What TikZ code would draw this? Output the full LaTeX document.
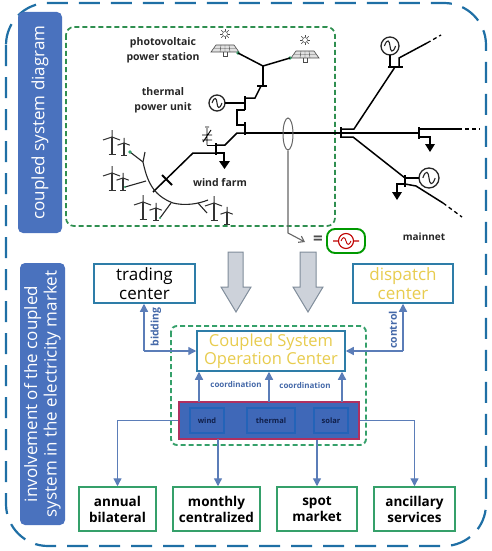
\documentclass[tikz,border=0pt]{standalone}
\usepackage{fontspec}
\setmainfont{Open Sans}
\usetikzlibrary{arrows.meta,calc,shapes.geometric}
\definecolor{outerblue}{HTML}{1F6FA5}
\definecolor{sidebar}{HTML}{4A72BE}
\definecolor{dashgreen}{HTML}{2F8F50}
\definecolor{boxblue}{HTML}{2E7DA8}
\definecolor{boxgreen}{HTML}{35A06A}
\definecolor{arrowblue}{HTML}{5B7DB8}
\definecolor{goldtext}{HTML}{E8CC4E}
\definecolor{navy}{HTML}{101F4A}
\definecolor{panelblue}{HTML}{3F68B8}
\definecolor{innerblue}{HTML}{2363B8}
\definecolor{panelred}{HTML}{B03060}
\definecolor{labelblue}{HTML}{4468A8}
\definecolor{biggray}{HTML}{CDD2DA}
\definecolor{grayedge}{HTML}{7F8C9A}
\tikzset{
  sidebox/.style={draw=none,fill=sidebar,rounded corners=5pt,text=white,align=center,inner sep=0pt},
  topbox/.style={draw=boxblue,line width=1.5pt,fill=white,align=center,inner sep=0pt,font=\fontsize{17}{19}\selectfont},
  mktbox/.style={draw=boxgreen,line width=1.5pt,fill=white,align=center,inner sep=0pt,font=\fontsize{13.5}{16}\selectfont\bfseries},
  unitbox/.style={draw=innerblue,line width=1.2pt,fill=panelblue,text=navy,inner sep=0pt,font=\fontsize{7.5}{9}\selectfont\bfseries},
  flow/.style={draw=arrowblue,line width=1.3pt,-{Triangle[length=8pt,width=8pt]}},
  plainlabel/.style={align=center,font=\fontsize{10.5}{15}\selectfont\bfseries,text=black!85},
  smalllabel/.style={text=labelblue,font=\fontsize{8}{10}\selectfont\bfseries,inner sep=0pt},
  sidelabel/.style={text=labelblue,font=\fontsize{10.5}{12}\selectfont\bfseries,inner sep=0pt,rotate=90},
  pw/.style={line width=1.5pt,black},
  thin pw/.style={line width=1.1pt,black!85},
  bigarrow/.style={draw=grayedge,line width=1pt,fill=biggray},
  turbine/.pic={
    \draw[line width=1.4pt,black!80] (0,0) -- (0,17);
    \draw[line width=1.1pt,black!80] (-3.5,17.5) -- (3.5,17.5);
    \draw[line width=1pt,black!80] (0,0) -- (-9,3) (0,0) -- (8,3) (0,0) -- (0,-7);
  },
  solarpanel/.pic={
    \draw[line width=.6pt,black!70,fill=black!12] (-9,-1) -- (9,-1) -- (14,6) -- (-14,6) -- cycle;
    \draw[line width=.4pt,black!70] (-4,-1) -- (-5,6) (4,-1) -- (5,6) (0,-1) -- (0,6) (-11,2.5) -- (11,2.5);
    \draw[line width=.7pt,black!70] (-2,6) -- (-2,10) -- (2,10) -- (2,6);
    \foreach \a in {0,45,...,315}{\draw[line width=.5pt,black!70] (0,-12)++(\a:3) -- ++(\a:2.4);}
    \draw[line width=.5pt,black!70] (0,-12) circle (2.5);
  },
  generator/.pic={
    \draw[line width=1.3pt,black!85] (0,0) circle (#1);
    \draw[line width=1.1pt,black!85] (-#1*.62,0) .. controls (-#1*.3,-#1*.9) and (-#1*.05,-#1*.6) .. (0,0) .. controls (#1*.05,#1*.6) and (#1*.3,#1*.9) .. (#1*.62,0);
  }
}
\begin{document}
\begin{tikzpicture}[x=1pt,y=-1pt]
\useasboundingbox (0,0) rectangle (492,551);
% outer frame
\draw[outerblue,line width=2.2pt,rounded corners=42pt,dash pattern=on 21pt off 11pt] (6,3) rectangle (486,546);
% side labels
\node[sidebox,rotate=90,minimum width=221pt,minimum height=44pt,font=\fontsize{17}{19}\selectfont] (sideA) at (40,122.5) {coupled system diagram};
\node[sidebox,rotate=90,minimum width=262pt,minimum height=45pt,font=\fontsize{17}{19.5}\selectfont] (sideB) at (42.5,394) {involvement of the coupled\\system in the electricity market};
% upper green area
\draw[dashgreen,line width=1.7pt,rounded corners=8pt,dash pattern=on 5pt off 3pt] (66,27) rectangle (335,226);
\node[plainlabel] (pvlabel) at (163,50) {photovoltaic\\power station};
\node[plainlabel] (thlabel) at (163,100) {thermal\\power unit};
\node[plainlabel,font=\fontsize{10.5}{13}\selectfont\bfseries] (wflabel) at (220,183) {wind farm};
\node[font=\fontsize{10}{12}\selectfont\bfseries,text=black!85] (mainnet) at (424,237) {mainnet};
% solar panels
\pic at (225,46) {solarpanel};
\pic at (305,52) {solarpanel};
\coordinate (pvA) at (238,53);
\coordinate (pvB) at (290,58);
\coordinate (pvJ) at (263,66);
\coordinate (pvBus) at (263,86);
\fill[boxgreen] (pvA) circle (1.8) (pvB) circle (1.8);
\draw[pw] (pvA) -- (pvJ) -- (pvB);
\draw[pw] (pvJ) -- (pvBus);
\draw[pw] (257,86) -- (267,86);
\draw[pw] (261,86) -- (255,98) -- (245,98);
% thermal generator
\pic at (217,103) {generator=8};
\coordinate (busTh) at (245,103);
\draw[pw] (225,103) -- (busTh);
\draw[line width=2.4pt] (245,96) -- (245,110);
\draw[pw] (245,110) -- (237,110) -- (237,125) -- (245,125);
\draw[line width=2.4pt] (245,122) -- (245,135);
% main line
\coordinate (busMain) at (245,133);
\coordinate (busHub) at (341,133);
\coordinate (busMid) at (419,133);
\draw[pw] (busMain) -- (busHub);
\draw[pw] (busHub) -- (busMid);
% wind branch
\draw[pw] (245,133) -- (237,133) -- (225,145) -- (216,145);
\draw[line width=2.4pt] (216,143) -- (216,155);
\draw[pw] (216,153) -- (193,153) -- (153,192);
\draw[pw] (216,153) -- (224,153) -- (224,161);
\fill[black] (219,161) -- (230,161) -- (224.5,169) -- cycle;
\draw[line width=1.8pt] (162,175) -- (172,185);
\draw[line width=.9pt] (207,145) -- (216,145);
\draw[line width=.9pt] (207,145) -- (207,128) (202,135) -- (212,135) (202,140) -- (212,140) (203,142) -- (211,130) (205,127) -- (209,127);
% collector
\draw[thin pw] (145,152) -- (143,162) .. controls (147,180) and (152,195) .. (173,203) .. controls (185,206) and (198,204) .. (208,200);
\draw[thin pw] (130,152) -- (143,162);
\draw[thin pw] (125,187) -- (146,181);
\draw[thin pw] (160,218) -- (171,203);
\draw[thin pw] (207,213) -- (198,203);
\fill[boxgreen] (130,152) circle (1.8) (125,187) circle (1.2) (160,218) circle (1.2);
\pic at (112,137) {turbine};
\pic[scale=.72] at (124,143) {turbine};
\pic at (112,173) {turbine};
\pic[scale=.72] at (123,178) {turbine};
\pic at (143,202) {turbine};
\pic[scale=.72] at (156,208) {turbine};
\pic at (214,203) {turbine};
\pic[scale=.72] at (227,212) {turbine};
% right network
\draw[line width=2.4pt] (341,127) -- (341,138);
\draw[pw] (341,129) -- (354,129) -- (395,67);
\draw[line width=2.2pt] (388,67) -- (403,67);
\pic at (390,46) {generator=9};
\draw[pw] (390,55) -- (390,67);
\draw[pw] (399,67) -- (399,58) -- (427,43);
\draw[line width=1.3pt,dash pattern=on 4pt off 3pt] (427,43) -- (441,35);
\draw[line width=2.2pt] (419,127) -- (419,139);
\draw[pw] (419,129) -- (458,129);
\draw[line width=1.3pt,dash pattern=on 4pt off 3pt] (458,129) -- (480,129);
\draw[pw] (419,137) -- (430,137) -- (430,146);
\fill[black] (425,144) -- (435,144) -- (430,152) -- cycle;
\draw[pw] (341,137) -- (353,137) -- (405,178);
\draw[line width=2.4pt] (405,175) -- (405,187);
\pic at (429,178) {generator=10};
\draw[pw] (405,178) -- (419,178);
\draw[pw] (405,184) -- (397,184) -- (397,193);
\fill[black] (392,192) -- (402,192) -- (397,200) -- cycle;
\draw[pw] (405,184) -- (416,186) -- (443,203);
\draw[line width=1.3pt,dash pattern=on 4pt off 3pt] (443,203) -- (462,217);
% equivalent
\node[draw=black!60,line width=1pt,ellipse,minimum width=10pt,minimum height=32pt,inner sep=0pt] (cut) at (288,134) {};
\node[font=\fontsize{17}{19}\selectfont\bfseries,text=black!70] (eq) at (318,240) {=};
\node[draw=green!60!black,line width=1.9pt,rounded corners=8pt,minimum width=38pt,minimum height=24pt,inner sep=0pt] (equiv) at (346,241) {};
\draw[red!75!black,line width=1.1pt] (346,241) circle (7.5) (333,241) -- (338.5,241) (353.5,241) -- (359,241);
\draw[red!75!black,line width=.9pt] (341,241) .. controls (343,236) and (345,237) .. (346,241) .. controls (347,245) and (349,246) .. (351,241);
\coordinate (cutBend) at (288,233);
\coordinate (cutEnd) at (305,242);
\draw[draw=black!60,line width=1.1pt,-{Straight Barb[length=5pt,width=7pt]}] (cut.south) -- (cutBend) -- (cutEnd);
% big arrows
\draw[bigarrow] (228,252) -- (243,252) -- (243,287) -- (251,287) -- (236,312) -- (221,287) -- (228,287) -- cycle;
\draw[bigarrow] (300,252) -- (316,252) -- (316,287) -- (323,287) -- (308,312) -- (293,287) -- (300,287) -- cycle;
% centres
\node[topbox,minimum width=101pt,minimum height=39pt] (trade) at (144.5,283.5) {trading\\center};
\node[topbox,minimum width=100pt,minimum height=39pt,text=goldtext] (disp) at (403,283.5) {dispatch\\center};
\draw[draw=boxgreen,line width=1.9pt,rounded corners=6pt,dash pattern=on 5pt off 3pt] (171,326) rectangle (366,445);
\node[topbox,minimum width=148pt,minimum height=40pt,text=goldtext,font=\fontsize{16.5}{18.5}\selectfont] (ops) at (271,351) {Coupled System\\Operation Center};
% coordination panel
\node[draw=panelred,line width=1.5pt,fill=panelblue,minimum width=180pt,minimum height=37pt,inner sep=0pt] (panel) at (269,420.5) {};
\node[unitbox,minimum width=34pt,minimum height=25pt] (wind) at (207,420.5) {wind};
\node[unitbox,minimum width=48pt,minimum height=25pt] (thermal) at (271,420.5) {thermal};
\node[unitbox,minimum width=34pt,minimum height=25pt] (solar) at (331,420.5) {solar};
% connectors to ops
\coordinate (bidJ) at (144,351);
\coordinate (ctlJ) at (403,351);
\draw[flow] (bidJ) -- (trade.south -| bidJ);
\draw[flow] (bidJ) -- (ops.west);
\draw[flow] (ctlJ) -- (disp.south -| ctlJ);
\draw[flow] (ctlJ) -- (ops.east);
\node[sidelabel] (bidl) at (156,327) {bidding};
\node[sidelabel] (ctll) at (393,330) {control};
\coordinate (upA) at (199,402);
\coordinate (upB) at (269,402);
\coordinate (upC) at (342,402);
\draw[flow] (upA) -- (ops.south -| upA);
\draw[flow] (upB) -- (ops.south -| upB);
\draw[flow] (upC) -- (ops.south -| upC);
\node[smalllabel] (coA) at (236,384) {coordination};
\node[smalllabel] (coB) at (305,385) {coordination};
% markets
\node[mktbox,minimum width=77pt,minimum height=44pt] (annual) at (117.5,509) {annual\\bilateral};
\node[mktbox,minimum width=87pt,minimum height=44pt] (monthly) at (216.5,509) {monthly\\centralized};
\node[mktbox,minimum width=80pt,minimum height=44pt] (spot) at (317,509) {spot\\market};
\node[mktbox,minimum width=81pt,minimum height=44pt] (anc) at (414.5,509) {ancillary\\services};
\coordinate (downM) at (218,439);
\draw[flow] (panel.west) -- (annual.north |- panel.west) -- (annual.north);
\draw[flow] (panel.east) -- (anc.north |- panel.east) -- (anc.north);
\draw[flow] (downM) -- (monthly.north -| downM);
\draw[flow] (panel.south -| spot.north) -- (spot.north);
\end{tikzpicture}
\end{document}
